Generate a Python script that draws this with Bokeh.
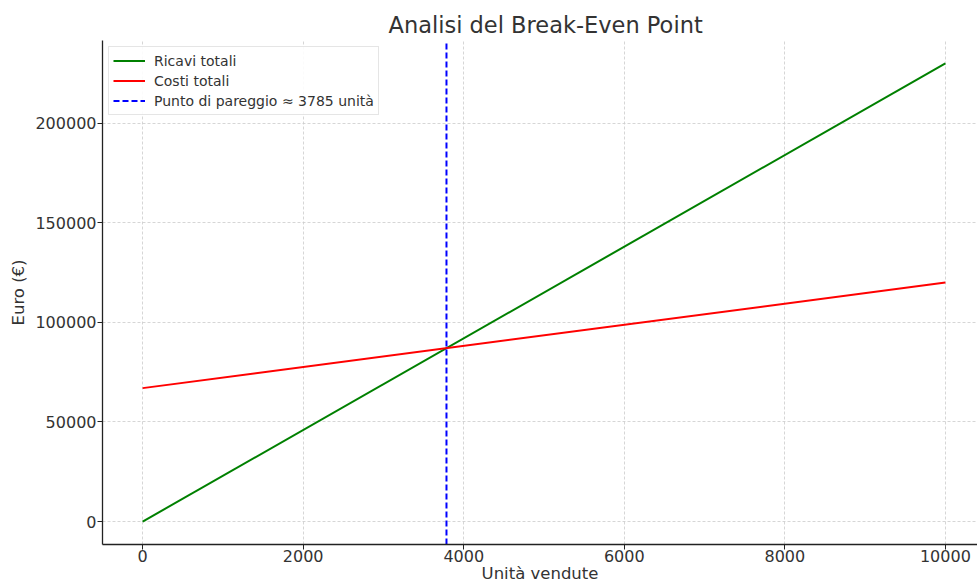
from bokeh.plotting import figure
from bokeh.models import FixedTicker, BasicTickFormatter, Range1d
from bokeh.embed import file_html
from bokeh.resources import INLINE

# Data
units = [0, 10000]
revenue = [0, 230000]
costs = [67000, 120000]
break_even = 3785
x_ticks = [0, 2000, 4000, 6000, 8000, 10000]
y_ticks = [0, 50000, 100000, 150000, 200000]
y_lo, y_hi = -11500, 241500
title_text = "Analisi del Break-Even Point"
x_label = "Unità vendute"
y_label = "Euro (€)"

FONT = "DejaVu Sans"
TXT = "#333333"

p = figure(width=977, height=585, output_backend="svg", toolbar_location=None,
           x_range=Range1d(-500, 10400), y_range=Range1d(y_lo, y_hi),
           title=title_text,
           min_border_left=102, min_border_right=0, min_border_top=40, min_border_bottom=30)

p.line(units, revenue, line_color="#008000", line_width=2, legend_label="Ricavi totali")
p.line(units, costs, line_color="#ff0000", line_width=2, legend_label="Costi totali")
p.line([break_even, break_even], [y_lo, y_hi], line_color="#0000ff", line_width=2,
       line_dash="6 3", legend_label=f"Punto di pareggio ≈ {break_even} unità")

p.title.text_font = FONT
p.title.text_font_size = "22.5px"
p.title.text_font_style = "normal"
p.title.text_color = TXT
p.title.align = "left"
p.title.standoff = 5
p.title.offset = 286

p.outline_line_color = None
p.background_fill_color = "white"

for ax in (p.xaxis[0], p.yaxis[0]):
    ax.axis_line_color = "#222222"
    ax.axis_line_width = 1.3
    ax.major_tick_line_color = "#222222"
    ax.major_tick_out = 5
    ax.major_tick_in = 0
    ax.minor_tick_line_color = None
    ax.major_label_text_font = FONT
    ax.major_label_text_font_size = "16px"
    ax.major_label_text_color = TXT
    ax.axis_label_text_font = FONT
    ax.axis_label_text_font_size = "16.5px"
    ax.axis_label_text_font_style = "normal"
    ax.axis_label_text_color = TXT

p.xaxis.major_label_standoff = 0
p.yaxis.major_label_standoff = 1
p.xaxis.axis_label = x_label
p.xaxis.axis_label_standoff = -1
p.yaxis.axis_label = y_label
p.yaxis.axis_label_standoff = 4
p.xaxis.ticker = FixedTicker(ticks=x_ticks)
p.yaxis.ticker = FixedTicker(ticks=y_ticks)
p.xaxis.formatter = BasicTickFormatter(use_scientific=False)
p.yaxis.formatter = BasicTickFormatter(use_scientific=False)

for g in (p.xgrid[0], p.ygrid[0]):
    g.grid_line_color = "#cccccc"
    g.grid_line_dash = "3 2"
    g.grid_line_width = 0.8

lg = p.legend[0]
lg.location = "top_left"
lg.margin = 6
lg.padding = 4
lg.spacing = 1
lg.label_height = 19
lg.glyph_height = 19
lg.glyph_width = 32
lg.label_standoff = 9
lg.label_text_font = FONT
lg.label_text_font_size = "14px"
lg.label_text_color = TXT
lg.border_line_color = "#cccccc"
lg.border_line_width = 1
lg.background_fill_alpha = 0.9

open("out.html", "w").write(file_html(p, INLINE))
